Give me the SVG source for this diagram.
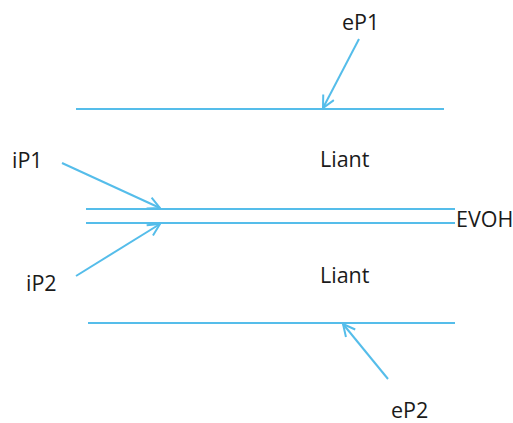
<svg xmlns="http://www.w3.org/2000/svg" width="513" height="423" viewBox="0 0 513 423">
<style>
.ln{stroke:#55BDEA;stroke-width:2;fill:none}
.ar{stroke:#55BDEA;stroke-width:2;fill:none;marker-end:url(#v)}
text{font-family:"Open Sans","Liberation Sans",sans-serif;font-size:21.5px;fill:#1a1a1a}
</style>
<defs>
<marker id="v" viewBox="0 0 14 14" refX="13" refY="7" markerWidth="14" markerHeight="14" markerUnits="userSpaceOnUse" orient="auto">
<path d="M1,1 L13,7 L1,13" stroke="#55BDEA" stroke-width="2" fill="none"/>
</marker>
</defs>
<rect width="513" height="423" fill="#fff"/>
<g id="layers">
<line class="ln" x1="76" y1="109" x2="444" y2="109"/>
<line class="ln" x1="86" y1="209" x2="455" y2="209"/>
<line class="ln" x1="86" y1="223" x2="455" y2="223"/>
<line class="ln" x1="88" y1="323" x2="455" y2="323"/>
</g>
<g id="labels">
<text x="342" y="30">eP1</text>
<text x="12" y="168">iP1</text>
<text x="26" y="291">iP2</text>
<text x="320" y="167">Liant</text>
<text x="320" y="283">Liant</text>
<text x="456" y="227">EVOH</text>
<text x="391" y="418">eP2</text>
</g>
<g id="connectors">
<line class="ar" x1="359" y1="39" x2="323" y2="108"/>
<line class="ar" x1="62" y1="163" x2="160" y2="208"/>
<line class="ar" x1="76" y1="276" x2="160" y2="224"/>
<line class="ar" x1="388" y1="379" x2="343" y2="324"/>
</g>
</svg>
